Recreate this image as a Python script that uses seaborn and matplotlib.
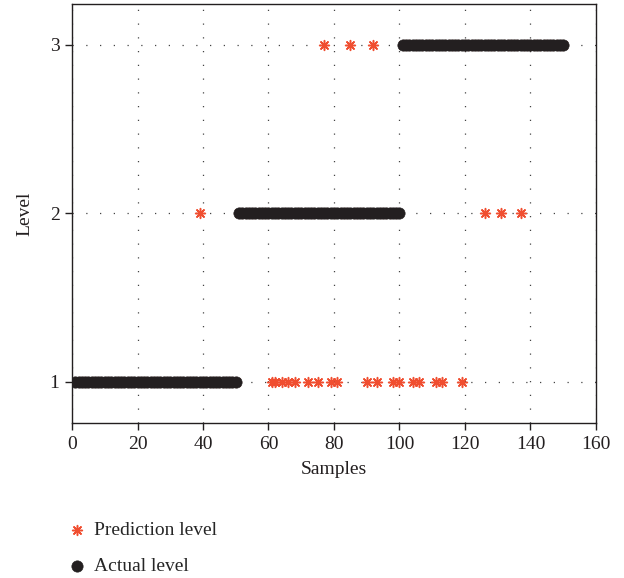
import numpy as np
import pandas as pd
import matplotlib
matplotlib.use("Agg")
import matplotlib.pyplot as plt
import seaborn as sns

# ---- data ----
samples = list(range(1, 151))
actual_level = [1] * 50 + [2] * 50 + [3] * 50

# misclassified samples: sample -> predicted level
pred_level_1_samples = [61, 62, 64, 66, 68, 72, 75, 79, 81, 90, 93, 98, 100,
                        104, 106, 111, 113, 119]
pred_level_2_samples = [39, 126, 131, 137]
pred_level_3_samples = [77, 85, 92]

x_ticks = [0, 20, 40, 60, 80, 100, 120, 140, 160]
y_ticks = [1, 2, 3]

pred_level = list(actual_level)
for s in pred_level_1_samples:
    pred_level[s - 1] = 1
for s in pred_level_2_samples:
    pred_level[s - 1] = 2
for s in pred_level_3_samples:
    pred_level[s - 1] = 3

df = pd.DataFrame({"Samples": samples, "Actual": actual_level, "Pred": pred_level})

sns.set_theme(style="white")
plt.rcParams["font.family"] = ["Liberation Serif", "DejaVu Serif"]

fig = plt.figure(figsize=(6.24, 5.78), dpi=100)
ax = fig.add_axes([0.1154, 0.268, 0.8397, 0.725])

red = "#F04E30"
black = "#231F20"

sns.scatterplot(data=df, x="Samples", y="Pred", ax=ax, marker=(8, 2, 0),
                s=50, color=red, edgecolor=red, linewidth=1.1,
                label="Prediction level", zorder=3)
sns.scatterplot(data=df, x="Samples", y="Actual", ax=ax, marker="o",
                s=66, color=black, edgecolor=black, linewidth=0.5,
                label="Actual level", zorder=4)

ax.set_xlim(0, 160)
ax.set_ylim(0.756, 3.24)
ax.set_xticks(x_ticks)
ax.set_yticks(y_ticks)
ax.tick_params(axis="both", direction="out", length=5, width=1,
               labelsize=14, colors="#231F20", bottom=True, left=True, pad=4)
ax.grid(True, linestyle=(0, (1, 10)), linewidth=0.9, color="#444444")
for sp in ax.spines.values():
    sp.set_visible(True)
    sp.set_color("#231F20")
    sp.set_linewidth(1.0)

ax.set_xlabel("Samples", fontsize=14, color="#231F20", labelpad=6)
ax.set_ylabel("Level", fontsize=14, color="#231F20", labelpad=12)

handles, labels = ax.get_legend_handles_labels()
ax.get_legend().remove()
fig.legend(handles, labels, loc="upper left", bbox_to_anchor=(0.092, 0.112),
           frameon=False, fontsize=14, handletextpad=0.3, labelspacing=0.95,
           borderaxespad=0, handlelength=1.2)

fig.savefig("out.png", dpi=100)
